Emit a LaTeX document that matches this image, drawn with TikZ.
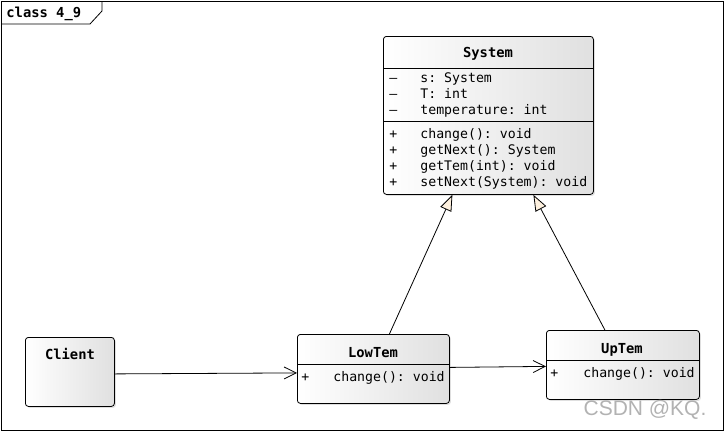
\documentclass[tikz,border=0pt]{standalone}
\usepackage{fontspec}
\setmonofont{DejaVu Sans Mono}
\setsansfont{Liberation Sans}
\usetikzlibrary{arrows.meta,shadows}
\definecolor{boxgray}{RGB}{224,224,224}
\definecolor{tricol}{RGB}{253,240,222}
\tikzset{
        assoc/.style={-{Straight Barb[length=12pt,width=12pt]}},
        inherit/.style={-{Triangle[open,length=16pt,width=12pt,fill=tricol]}},
    }

\begin{document}
\begin{tikzpicture}[x=1pt,y=-1pt,line width=0.8pt,
          cls/.style = {draw,rounded corners=3pt,left color=white,right color=boxgray,
                        anchor=north west,inner sep=0pt,
                        drop shadow={shadow xshift=1.5pt,shadow yshift=-1.5pt,opacity=.25}},
          ttl/.style = {font=\ttfamily\bfseries\fontsize{13.8}{15}\selectfont,anchor=base,inner sep=0pt},
          mem/.style = {font=\ttfamily\fontsize{13.2}{15}\selectfont,anchor=base west,inner sep=0pt}
          ]
 \useasboundingbox (0,0) rectangle (725,432);
 % frame and tab
 \draw (1,1) rectangle (723,430);
 \draw (1,24) -- (90,24) -- (102,11) -- (102,1);
 \node[ttl,anchor=base west] (frame) at (6,17) {class 4\_9};
 % classes
 \node[cls,minimum width=210pt,minimum height=158pt] (system) at (383,36) {};
 \node[cls,minimum width=89pt,minimum height=69pt] (client) at (25,337) {};
 \node[cls,minimum width=152pt,minimum height=69pt] (lowtem) at (297,334) {};
 \node[cls,minimum width=153pt,minimum height=69pt] (uptem) at (546,330) {};
 \draw (system.west |- 0,68) -- (system.east |- 0,68);
 \draw (system.west |- 0,121) -- (system.east |- 0,121);
 \draw (lowtem.west |- 0,364) -- (lowtem.east |- 0,364);
 \draw (uptem.west |- 0,360) -- (uptem.east |- 0,360);
 \node[ttl] (@sys) at (488,57) {System};
 \node[ttl] (@cli) at (70,359) {Client};
 \node[ttl] (@low) at (373,357) {LowTem};
 \node[ttl] (@up) at (622,353) {UpTem};
 % members
 \node[mem] (s1) at (389,82) {–};  \node[mem] (s1t) at (420,82) {s: System};
 \node[mem] (s2) at (389,98) {–};  \node[mem] (s2t) at (420,98) {T: int};
 \node[mem] (s3) at (389,114) {–}; \node[mem] (s3t) at (420,114) {temperature: int};
 \node[mem] (s4) at (389,138) {+}; \node[mem] (s4t) at (420,138) {change(): void};
 \node[mem] (s5) at (389,154) {+}; \node[mem] (s5t) at (420,154) {getNext(): System};
 \node[mem] (s6) at (389,170) {+}; \node[mem] (s6t) at (420,170) {getTem(int): void};
 \node[mem] (s7) at (389,186) {+}; \node[mem] (s7t) at (420,186) {setNext(System): void};
 \node[mem] (l1) at (301,381) {+}; \node[mem] (l1t) at (333,381) {change(): void};
 \node[mem] (u1) at (550,377) {+}; \node[mem] (u1t) at (583,377) {change(): void};
 % connectors
 \draw[assoc] ([yshift=-2pt]client.east) -- ([yshift=-4pt]lowtem.west);
 \draw[assoc] ([yshift=1.5pt]lowtem.east) -- ([yshift=-1.5pt]uptem.west);
 \draw[inherit] ([xshift=16pt]lowtem.north) -- ([xshift=-36pt]system.south);
 \draw[inherit] ([xshift=-18pt]uptem.north) -- ([xshift=45pt]system.south);
 % watermark
 \node[font=\sffamily\fontsize{21}{23}\selectfont,text=black!30] (mark) at (645,410) {CSDN @KQ.};
\end{tikzpicture}
\end{document}
